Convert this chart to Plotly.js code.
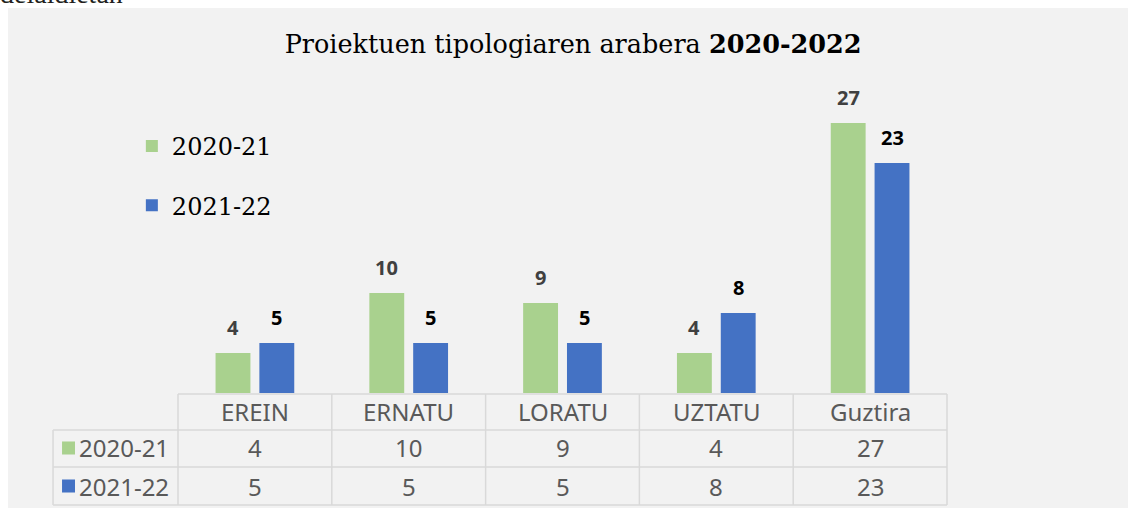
<!DOCTYPE html>
<html>
<head>
<meta charset="utf-8">
<script src="https://cdn.plot.ly/plotly-3.0.1.min.js"></script>
<style>
  html, body { margin: 0; padding: 0; background: #ffffff; width: 1128px; height: 508px; overflow: hidden; position: relative; }
  #cut { position: absolute; left: 0px; top: -20px; font-family: "Liberation Serif", serif; font-size: 28px; line-height: 28px; color: #231f20; white-space: nowrap; }
  #chart { position: absolute; left: 8px; top: 8px; width: 1120px; height: 500px; }
</style>
</head>
<body>
<div id="cut">deialdietan</div>
<div id="chart"></div>
<script>
// ---- data ----
const categories = ["EREIN", "ERNATU", "LORATU", "UZTATU", "Guztira"];
const seriesNames = ["2020-21", "2021-22"];
const values2021 = [4, 10, 9, 4, 27];
const values2122 = [5, 5, 5, 8, 23];
const titleText = "Proiektuen tipologiaren arabera <b>2020-2022</b>";

// ---- style ----
const colors = ["#a9d18e", "#4472c4"];
const labelColors = ["#404040", "#000000"];
const tableText = "#595959";
const lineColor = "#d9d9d9";
const seriesValues = [values2021, values2122];

const traces = seriesNames.map((name, s) => ({
  type: "bar",
  name: name,
  x: categories,
  y: seriesValues[s],
  legendgroup: "g" + s,
  marker: { color: colors[s], line: { width: 0 } },
  hoverinfo: "x+y+name"
}));

const annotations = [];
const shapes = [];

// data labels above bars
seriesValues.forEach((vals, s) => {
  vals.forEach((v, i) => {
    annotations.push({
      x: categories[i], y: v, xref: "x", yref: "y",
      text: String(v), showarrow: false,
      xanchor: "center", yanchor: "bottom",
      xshift: s === 0 ? -22 : 22, yshift: 10,
      font: { family: "Noto Sans, sans-serif", size: 20, color: labelColors[s], weight: "bold" }
    });
  });
});

// ---- data table below the axis ----
const n = categories.length;
const rowTops = [-0.0033, -0.1233, -0.2467, -0.3733]; // paper y of row boundaries
const rowMid = [-0.0633, -0.1833, -0.31];
const leftCol = -0.1625;

// horizontal lines
shapes.push({ type: "line", xref: "paper", yref: "paper", x0: 0, x1: 1, y0: rowTops[0], y1: rowTops[0], line: { color: lineColor, width: 1.5 } });
for (let r = 1; r < rowTops.length; r++) {
  shapes.push({ type: "line", xref: "paper", yref: "paper", x0: leftCol, x1: 1, y0: rowTops[r], y1: rowTops[r], line: { color: lineColor, width: 1.5 } });
}
// vertical lines at category boundaries
for (let i = 0; i <= n; i++) {
  shapes.push({ type: "line", xref: "paper", yref: "paper", x0: i / n, x1: i / n, y0: rowTops[0], y1: rowTops[3], line: { color: lineColor, width: 1.5 } });
}
shapes.push({ type: "line", xref: "paper", yref: "paper", x0: leftCol, x1: leftCol, y0: rowTops[1], y1: rowTops[3], line: { color: lineColor, width: 1.5 } });

const tFont = { family: "Noto Sans, sans-serif", size: 24, color: tableText };
categories.forEach((c, i) => {
  annotations.push({ x: c, y: rowMid[0], xref: "x", yref: "paper", text: c, showarrow: false, xanchor: "center", yanchor: "middle", font: tFont });
  seriesValues.forEach((vals, s) => {
    annotations.push({ x: c, y: rowMid[s + 1], xref: "x", yref: "paper", text: String(vals[i]), showarrow: false, xanchor: "center", yanchor: "middle", font: tFont });
  });
});
seriesNames.forEach((name, s) => {
  annotations.push({ x: -0.1312, y: rowMid[s + 1], xref: "paper", yref: "paper", text: name, showarrow: false, xanchor: "left", yanchor: "middle", font: tFont });
  const h = 0.0217; // half of square in paper y
  shapes.push({ type: "rect", xref: "paper", yref: "paper", x0: -0.1508, x1: -0.1339, y0: rowMid[s + 1] - h, y1: rowMid[s + 1] + h, fillcolor: colors[s], line: { width: 0 } });
});

const layout = {
  width: 1120, height: 500,
  margin: { l: 170, r: 181, t: 85, b: 115 },
  paper_bgcolor: "#f2f2f2",
  plot_bgcolor: "rgba(0,0,0,0)",
  title: {
    text: titleText,
    xref: "container", yref: "container",
    x: 0.5045, xanchor: "center", y: 0.928, yanchor: "middle",
    font: { family: "DejaVu Serif, serif", size: 25.5, color: "#000000" }
  },
  barmode: "group",
  bargap: 0.43,
  bargroupgap: 0.2045,
  xaxis: { type: "category", range: [-0.5, n - 0.5], showticklabels: false, showgrid: false, zeroline: false, showline: false, ticks: "", fixedrange: true },
  yaxis: { range: [0, 30], showticklabels: false, showgrid: false, zeroline: false, showline: false, ticks: "", fixedrange: true },
  showlegend: true,
  legend: {
    x: -0.06, xanchor: "left", y: 0.897, yanchor: "top",
    bgcolor: "rgba(0,0,0,0)", borderwidth: 0,
    traceorder: "grouped", tracegroupgap: 25,
    font: { family: "DejaVu Serif, serif", size: 24, color: "#000000" }
  },
  annotations: annotations,
  shapes: shapes
};

Plotly.newPlot("chart", traces, layout, { displayModeBar: false, staticPlot: true });
</script>
</body>
</html>
